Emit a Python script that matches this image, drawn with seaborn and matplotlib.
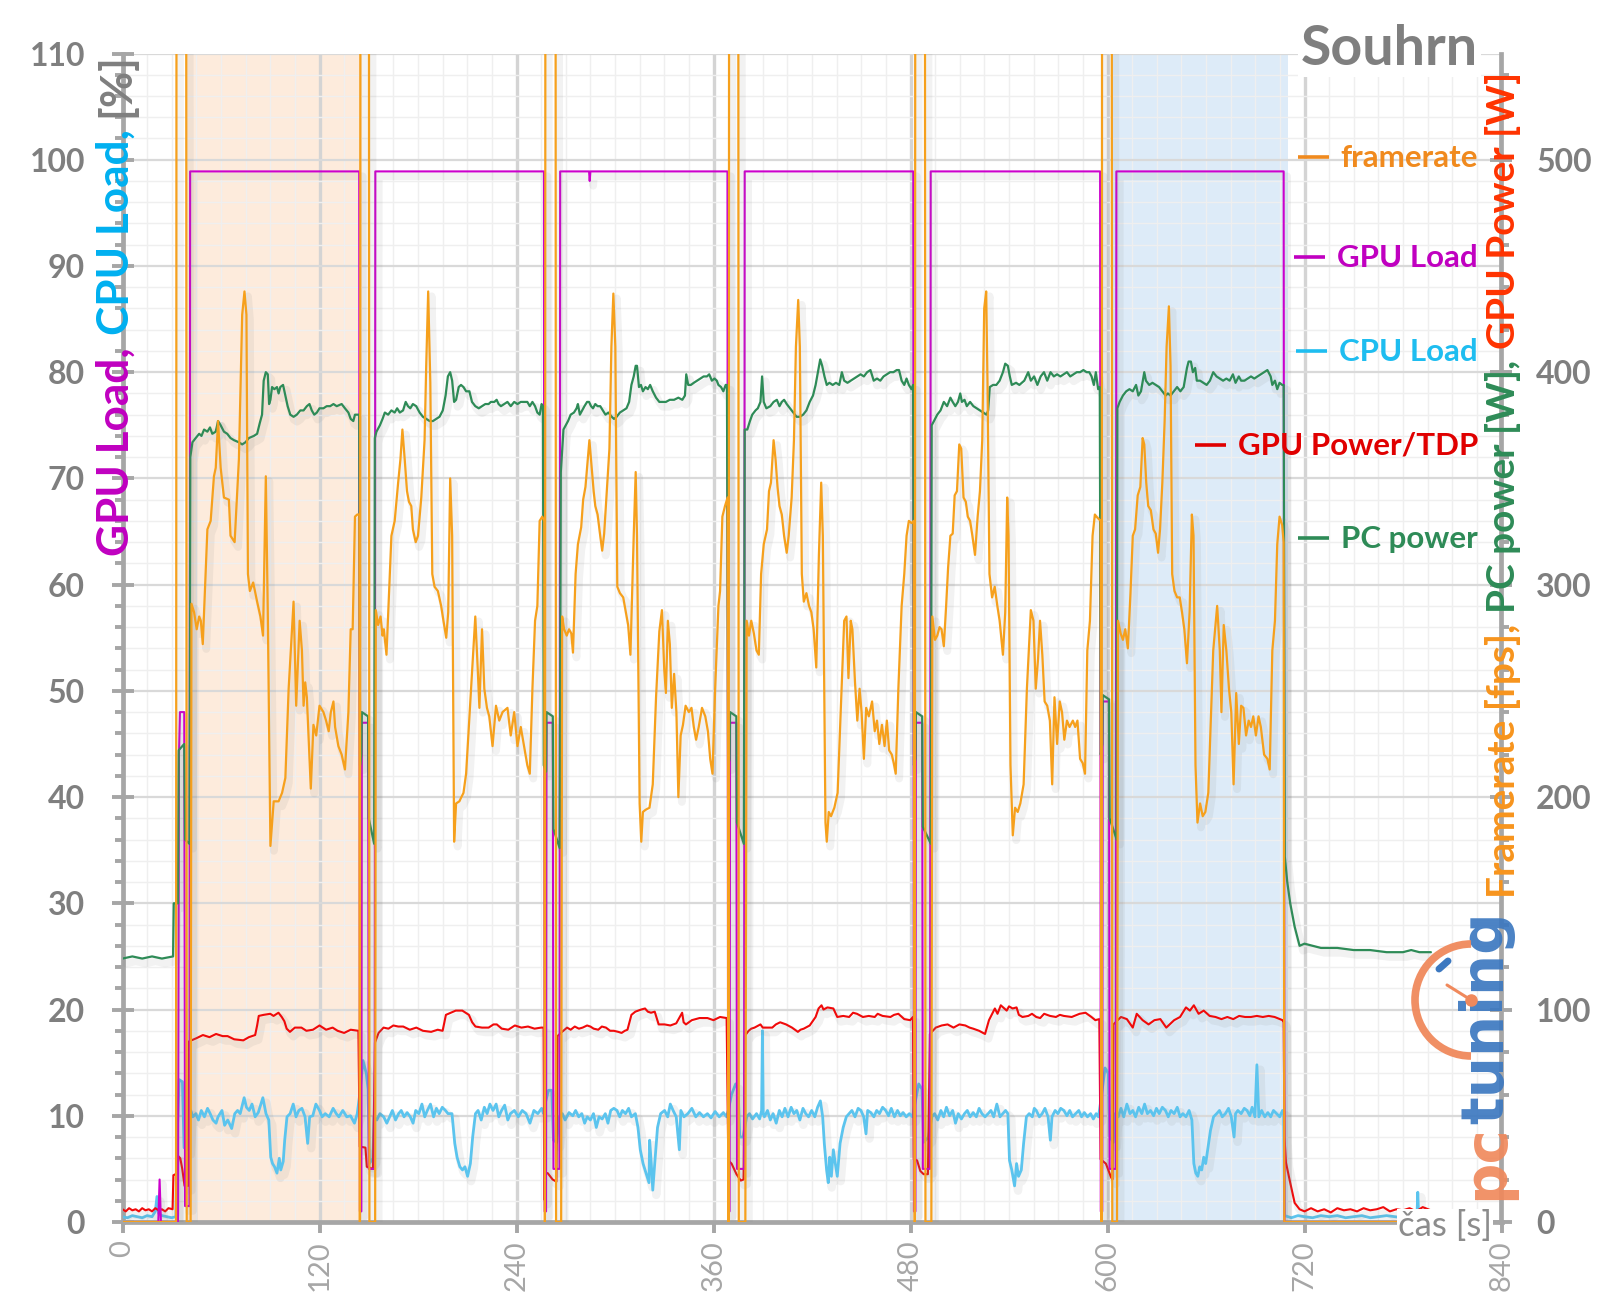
import matplotlib
matplotlib.use("Agg")
import numpy as np
import pandas as pd
import matplotlib.pyplot as plt
import seaborn as sns
from matplotlib.patches import Arc
from matplotlib.lines import Line2D
from matplotlib.ticker import MultipleLocator
import matplotlib.patheffects as pe

sns.set_theme(style="white")
plt.rcParams['font.family'] = ['Lato', 'DejaVu Sans']

# ---------------- data ----------------
X_TICKS = [0, 120, 240, 360, 480, 600, 720, 840]
LEFT_TICKS = [0, 10, 20, 30, 40, 50, 60, 70, 80, 90, 100, 110]
RIGHT_TICKS = [0, 100, 200, 300, 400, 500]
ORANGE_SPAN = (39.1, 146.0)
BLUE_SPAN = (602.9, 709.8)

# framerate [fps] (right axis); values above 550 are loading-screen spikes off the chart
FRAMERATE = [
    (0, 0), (32.6, 0), (32.9, 620), (38.8, 620), (39.1, 0), (41.5, 0),
    (42.0, 291), (43.6, 287), (45.2, 279), (46.7, 285), (47.7, 283), (48.9, 272), (51.7, 326), (53.7, 330),
    (55.7, 351), (56.8, 355), (58.2, 377), (59.8, 355), (61.8, 341), (64.8, 340), (65.8, 323), (68.3, 320),
    (70.9, 359), (72.9, 427), (74.3, 438), (75.5, 427), (76.4, 305), (77.6, 297), (79.6, 301), (82.0, 292),
    (84.0, 285), (85.6, 276), (87.3, 351), (88.5, 287), (90.1, 177), (92.1, 198), (95.1, 198), (97.2, 202),
    (99.2, 209), (101.2, 251), (104.2, 292), (105.8, 243), (107.9, 283), (109.3, 269), (110.3, 243),
    (111.3, 254), (112.3, 247), (114.7, 204), (116.3, 234), (118.0, 229), (120.0, 243), (122.4, 240),
    (124.0, 236), (125.6, 231), (126.9, 240), (128.5, 245), (129.5, 233), (131.5, 224), (133.5, 220),
    (135.5, 213), (137.6, 240), (139.0, 279), (140.2, 279), (141.6, 332), (143.0, 333), (144.3, 333),
    (144.6, 0), (144.9, 620), (150.1, 620), (150.4, 0), (153.9, 0),
    (154.3, 288), (155.7, 281), (157.2, 285), (158.4, 276), (159.2, 279), (160.8, 267), (163.8, 323),
    (165.8, 330), (167.9, 348), (169.3, 359), (170.5, 373), (171.9, 359), (173.3, 344), (174.5, 339),
    (175.9, 337), (176.9, 326), (178.6, 320), (180.0, 323), (182.0, 341), (184.0, 368), (185.0, 403),
    (186.2, 438), (187.5, 395), (188.7, 305), (190.1, 299), (192.1, 297), (194.1, 290), (195.5, 283),
    (197.2, 275), (198.4, 287), (199.6, 350), (200.8, 323), (202.0, 179), (203.2, 197), (205.2, 198),
    (207.7, 202), (209.3, 211), (212.3, 251), (214.9, 285), (216.4, 260), (217.4, 242), (219.0, 279),
    (220.4, 251), (222.0, 242), (223.4, 238), (225.4, 224), (227.5, 243), (229.5, 236), (231.5, 240),
    (234.5, 242), (236.5, 229), (238.6, 240), (240.6, 224), (242.6, 233), (244.6, 224), (246.6, 215),
    (248.1, 211), (249.7, 251), (251.3, 283), (252.7, 290), (254.1, 330), (255.7, 332), (256.9, 330),
    (257.3, 0), (257.6, 620), (263.8, 620), (264.1, 0), (267.2, 0),
    (267.8, 285), (269.0, 279), (270.6, 276), (272.0, 279), (273.4, 277), (274.4, 268), (276.0, 305),
    (277.4, 319), (279.4, 327), (280.6, 340), (282.0, 346), (283.4, 359), (284.4, 368), (285.4, 359),
    (287.0, 344), (288.0, 337), (289.4, 333), (291.0, 323), (292.2, 316), (293.4, 324), (295.0, 344),
    (296.6, 364), (297.8, 412), (299.0, 437), (300.2, 412), (301.4, 299), (303.0, 296), (305.0, 294),
    (306.6, 287), (308.0, 281), (309.4, 267), (311.4, 323), (312.6, 353), (313.4, 323), (315.0, 197),
    (316.0, 179), (317.0, 193), (318.6, 194), (321.0, 195), (323.0, 206), (325.0, 247), (327.0, 278),
    (328.6, 288), (330.0, 260), (331.0, 249), (332.2, 283), (333.4, 272), (334.6, 242), (336.0, 258),
    (337.4, 240), (338.6, 200), (340.0, 229), (341.4, 234), (343.0, 243), (345.0, 240), (346.6, 242),
    (348.0, 233), (349.4, 227), (351.0, 233), (353.0, 242), (355.0, 238), (356.6, 231), (358.0, 218),
    (359.4, 211), (361.0, 251), (363.0, 290), (364.0, 297), (365.4, 332), (367.0, 337), (368.6, 341),
    (369.2, 0), (369.5, 620), (375.1, 620), (375.4, 0), (379.4, 0),
    (380.2, 283), (381.6, 276), (383.0, 283), (384.6, 277), (386.2, 269), (387.6, 267), (389.0, 305),
    (390.6, 319), (392.6, 326), (393.8, 344), (395.0, 348), (396.6, 368), (397.8, 359), (399.0, 346),
    (400.2, 337), (401.6, 333), (403.0, 323), (404.6, 315), (405.8, 323), (407.6, 341), (409.0, 368),
    (410.2, 412), (411.6, 434), (412.6, 412), (413.8, 305), (415.0, 292), (416.6, 296), (418.2, 290),
    (419.6, 287), (421.0, 279), (422.6, 261), (424.2, 314), (425.6, 348), (426.6, 323), (428.2, 188),
    (429.0, 179), (430.2, 193), (431.6, 191), (433.6, 195), (435.6, 202), (437.6, 242), (439.6, 283),
    (441.0, 285), (442.2, 256), (443.6, 283), (444.6, 279), (446.2, 254), (447.6, 236), (449.0, 251),
    (450.2, 240), (451.6, 218), (453.0, 242), (454.6, 238), (456.6, 245), (458.2, 231), (459.6, 236),
    (461.0, 225), (462.6, 234), (464.2, 224), (465.6, 236), (467.0, 222), (468.6, 220), (469.8, 216),
    (471.0, 211), (472.6, 251), (474.6, 290), (476.2, 305), (477.6, 323), (479.0, 330), (480.6, 329),
    (482.0, 330),
    (482.6, 0), (482.9, 620), (488.8, 620), (489.1, 0), (492.7, 0),
    (493.3, 285), (494.9, 274), (496.3, 276), (497.7, 280), (498.9, 279), (500.3, 271), (501.7, 290),
    (502.9, 308), (504.3, 323), (505.7, 324), (506.9, 342), (508.3, 344), (509.7, 366), (510.9, 364),
    (512.3, 341), (513.7, 339), (514.9, 332), (516.3, 330), (517.7, 323), (519.3, 314), (520.9, 332),
    (522.3, 344), (523.7, 368), (524.9, 430), (526.1, 438), (526.9, 395), (528.1, 305), (529.7, 294),
    (531.3, 299), (532.9, 290), (534.3, 283), (536.3, 267), (537.7, 287), (538.9, 341), (539.7, 323),
    (540.9, 215), (542.3, 182), (543.7, 195), (545.3, 193), (546.9, 197), (548.9, 206), (550.9, 251),
    (553.3, 288), (554.9, 283), (556.3, 251), (557.7, 265), (558.9, 283), (560.3, 267), (561.7, 245),
    (563.3, 243), (564.9, 236), (566.3, 206), (567.7, 247), (569.3, 225), (570.9, 245), (572.3, 240),
    (573.7, 227), (575.3, 236), (576.9, 233), (578.9, 236), (580.3, 233), (581.7, 236), (583.3, 218),
    (584.9, 216), (586.3, 211), (587.7, 269), (589.3, 283), (590.9, 323), (592.3, 333), (593.3, 332),
    (595.8, 330),
    (596.4, 0), (596.7, 620), (602.6, 620), (602.9, 0), (605.8, 0),
    (606.4, 283), (608.0, 277), (609.4, 274), (610.8, 279), (612.4, 270), (614.0, 296), (615.4, 323),
    (616.8, 326), (618.4, 342), (620.0, 346), (621.4, 369), (622.4, 366), (623.6, 348), (624.8, 337),
    (626.4, 335), (628.0, 326), (629.4, 324), (630.8, 315), (632.0, 326), (633.4, 348), (634.8, 377),
    (636.0, 412), (637.4, 431), (638.4, 403), (639.4, 305), (640.8, 297), (642.4, 294), (644.0, 294),
    (645.4, 287), (646.8, 279), (648.4, 263), (650.0, 287), (651.4, 333), (652.4, 323), (653.6, 215),
    (654.8, 188), (656.4, 197), (658.0, 191), (659.6, 193), (661.4, 202), (662.8, 233), (664.4, 269),
    (666.8, 290), (668.4, 269), (669.4, 240), (670.8, 281), (672.4, 269), (674.0, 251), (675.4, 240),
    (676.8, 206), (678.4, 249), (680.0, 225), (681.4, 243), (682.8, 242), (684.4, 229), (686.0, 236),
    (687.4, 233), (688.8, 238), (690.4, 229), (692.0, 238), (693.4, 233), (695.4, 220), (697.4, 218),
    (698.8, 213), (700.4, 269), (702.0, 283), (703.4, 319), (704.8, 332), (706.4, 328), (707.3, 320),
    (707.7, 0), (797.0, 0),
]

# GPU load [%] (left axis)
GPU_LOAD = [
    (0, 0), (21.8, 0), (22.6, 4.0), (23.4, 0), (33.8, 0), (34.4, 44), (35.0, 48), (37.6, 48),
    (38.1, 1.5), (40.8, 1.5), (41.2, 98.9),
    (144.2, 98.9), (144.6, 1), (145.5, 1), (145.8, 47), (149.6, 47), (150.0, 5), (153.6, 5), (154.0, 98.9),
    (256.7, 98.9), (257.1, 1), (258.0, 1), (258.3, 47), (262.1, 47), (262.5, 5), (266.2, 5), (266.6, 98.9),
    (284.2, 98.9), (284.6, 98.0), (285.0, 98.9),
    (368.5, 98.9), (368.9, 1), (369.8, 1), (370.1, 47), (373.9, 47), (374.3, 5), (378.6, 5), (379.0, 98.9),
    (481.7, 98.9), (482.1, 1), (483.0, 1), (483.3, 47), (487.1, 47), (487.5, 5), (491.9, 5), (492.3, 98.9),
    (595.5, 98.9), (595.9, 1), (596.8, 1), (597.1, 49), (600.9, 49), (601.3, 5), (605.0, 5), (605.4, 98.9),
    (707.3, 98.9), (707.8, 0), (797, 0),
]

# CPU load [%] (left axis)
CPU_LOAD = [
    (0, 0.5), (3, 0.4), (6, 0.6), (9, 0.5), (12, 0.4), (15, 0.6), (18, 0.5), (20, 1.0), (21, 2.4), (22, 0.8),
    (24, 0.6), (27, 0.5), (30, 0.4), (32.5, 0.5), (33.5, 9.0), (34.5, 13.4), (36.5, 13.2), (37.5, 7.0),
    (39.5, 6.8), (40.8, 10.5),
    (41.6, 10.5), (42.8, 9.9), (44.7, 10.2), (46.3, 9.6), (48.0, 10.5), (49.9, 9.9), (51.8, 10.7), (53.4, 10.2),
    (55.1, 9.6), (57.0, 9.3), (58.2, 9.9), (60.6, 10.5), (62.2, 9.1), (64.1, 9.6), (66.5, 8.8), (68.4, 10.2),
    (70.1, 10.5), (71.7, 10.2), (74.1, 11.7), (75.5, 10.8), (77.2, 10.5), (78.9, 11.1), (80.8, 9.9), (82.7, 10.3),
    (84.3, 11.1), (85.5, 11.7), (87.4, 10.2), (89.1, 9.6), (90.3, 6.1), (91.4, 5.5), (92.6, 5.2), (94.1, 4.6),
    (95.5, 6.0), (96.4, 4.9), (97.9, 5.7), (98.8, 7.7), (100.2, 9.9), (102.1, 10.2), (104.0, 11.1), (105.7, 9.9),
    (107.4, 10.5), (109.3, 10.7), (111.2, 9.9), (112.8, 7.4), (114.0, 9.9), (115.9, 10.0), (117.8, 11.1),
    (120.0, 10.5), (121.6, 9.9), (123.5, 10.2), (125.9, 9.9), (128.3, 10.7), (130.2, 10.2), (131.8, 9.9),
    (134.2, 10.5), (136.6, 9.9), (138.9, 10.0), (141.3, 9.3), (143.0, 10.2),
    (144.5, 12.0), (146.5, 15.2), (148.5, 14.0), (149.6, 12.5), (150.4, 5.5), (152.5, 6.0),
    (153.2, 9.9), (154.9, 9.6), (156.8, 10.2), (159.1, 9.9), (161.0, 9.3), (162.7, 9.9), (164.4, 10.5),
    (166.3, 9.6), (168.2, 10.2), (169.8, 10.5), (171.5, 9.9), (173.4, 10.3), (175.3, 9.9), (177.0, 9.3),
    (178.6, 10.5), (180.5, 10.2), (182.4, 11.1), (184.1, 9.9), (185.7, 10.5), (187.6, 11.1), (189.5, 9.9),
    (191.2, 10.7), (192.9, 10.2), (194.8, 10.8), (196.7, 10.5), (198.3, 10.2), (200.7, 10.2), (202.4, 7.4),
    (203.8, 6.1), (205.5, 5.2), (207.1, 4.9), (208.6, 5.2), (210.2, 4.3), (211.9, 5.5), (213.3, 8.0),
    (215.0, 10.2), (216.6, 10.5), (218.5, 9.6), (220.4, 10.8), (222.1, 10.2), (223.8, 11.1), (225.7, 10.5),
    (227.6, 11.1), (229.2, 9.9), (230.9, 10.5), (232.8, 11.0), (234.7, 9.6), (236.3, 10.2), (238.7, 10.5),
    (241.1, 9.9), (243.5, 10.5), (245.8, 10.2), (248.2, 9.3), (250.6, 10.5), (253.0, 10.2), (255.3, 10.7),
    (256.5, 10.2),
    (257.2, 11.0), (259.5, 12.4), (261.5, 12.4), (262.5, 7.7), (264.5, 7.5),
    (266.0, 9.9), (267.9, 10.2), (269.6, 9.6), (272.0, 10.3), (274.3, 10.0), (276.0, 10.5), (277.9, 9.9),
    (279.8, 10.2), (281.5, 9.3), (283.1, 9.9), (285.0, 9.6), (286.9, 10.2), (288.6, 8.9), (290.3, 9.9),
    (292.2, 9.7), (294.1, 10.2), (295.7, 9.3), (297.4, 10.5), (299.3, 10.7), (301.2, 10.5), (302.9, 9.9),
    (304.5, 10.5), (306.4, 10.2), (308.3, 10.7), (310.0, 9.9), (312.4, 10.2), (314.0, 8.9), (315.4, 6.8),
    (317.1, 5.5), (318.3, 4.9), (319.5, 4.3), (320.7, 3.7), (321.1, 7.7), (322.1, 5.5), (323.0, 3.0),
    (324.2, 5.5), (325.9, 8.9), (327.8, 10.2), (330.2, 10.5), (332.1, 9.9), (333.7, 11.1), (335.4, 10.5),
    (337.3, 9.9), (339.2, 6.8), (340.1, 10.5), (342.0, 9.9), (344.4, 10.2), (346.8, 10.7), (349.2, 9.9),
    (351.5, 10.3), (353.9, 9.9), (356.3, 10.2), (358.5, 9.8), (361.0, 10.4), (363.5, 9.9), (366.0, 10.3),
    (368.0, 9.9),
    (369.0, 10.5), (371.0, 12.0), (373.5, 13.0), (375.0, 12.5), (376.0, 8.0), (378.0, 8.0),
    (380.2, 9.9), (381.9, 10.2), (383.8, 9.7), (386.2, 10.2), (388.1, 9.7), (389.3, 10.5), (389.8, 18.0),
    (390.3, 10.2), (391.0, 9.9), (392.9, 10.5), (394.6, 9.6), (396.3, 10.2), (398.2, 9.3), (400.1, 10.5),
    (401.8, 9.9), (403.5, 10.7), (405.4, 9.9), (407.3, 10.8), (409.0, 10.2), (410.7, 10.5), (412.6, 9.6),
    (414.5, 10.7), (416.2, 10.2), (417.9, 9.9), (419.8, 10.5), (421.7, 9.9), (423.4, 10.8), (425.1, 11.4),
    (426.5, 9.9), (427.5, 7.4), (428.9, 4.9), (429.9, 3.7), (430.8, 6.1), (431.8, 4.3), (433.0, 6.8),
    (434.2, 5.5), (435.4, 4.3), (437.1, 7.4), (439.0, 8.9), (440.9, 9.9), (442.6, 10.2), (444.3, 10.5),
    (446.2, 9.9), (448.1, 10.7), (449.8, 10.5), (451.5, 9.9), (452.9, 8.3), (453.9, 10.5), (455.8, 10.3),
    (457.7, 9.9), (459.4, 10.5), (461.1, 10.2), (463.0, 10.8), (464.9, 10.5), (466.6, 10.0), (468.3, 10.7),
    (470.2, 9.9), (472.1, 10.5), (473.8, 10.0), (475.5, 10.3), (477.4, 9.9), (479.3, 10.2), (481.2, 9.9),
    (482.5, 11.0), (485.0, 13.0), (487.0, 12.5), (488.0, 7.5), (491.0, 8.0),
    (493.0, 9.9), (494.7, 10.2), (496.6, 9.6), (498.5, 10.5), (500.2, 9.9), (501.9, 10.8), (503.8, 10.0),
    (505.7, 10.5), (507.4, 9.3), (509.1, 10.2), (511.0, 9.7), (512.9, 10.2), (514.6, 10.5), (516.3, 9.9),
    (518.2, 10.3), (520.1, 9.9), (521.8, 10.7), (523.5, 10.2), (525.4, 9.9), (527.3, 10.2), (529.0, 10.5),
    (530.7, 9.9), (532.6, 11.1), (534.5, 9.9), (536.2, 10.2), (537.9, 10.5), (539.3, 10.2), (540.3, 5.8),
    (541.7, 4.9), (543.4, 3.4), (544.6, 5.5), (545.8, 4.3), (547.5, 4.9), (548.9, 7.4), (550.6, 9.9),
    (552.3, 10.2), (554.2, 9.9), (555.4, 10.7), (556.6, 10.5), (558.5, 9.9), (560.2, 10.2), (561.9, 10.7),
    (563.8, 9.9), (565.2, 7.7), (566.2, 9.9), (568.1, 10.5), (569.8, 10.2), (571.5, 10.7), (573.4, 10.5),
    (575.3, 10.0), (577.0, 10.5), (578.7, 9.9), (580.6, 10.2), (582.5, 10.5), (584.2, 9.9), (585.9, 10.3),
    (587.8, 9.9), (589.7, 10.2), (591.4, 9.7), (593.1, 10.2), (594.5, 9.9),
    (596.0, 11.5), (598.5, 14.5), (600.5, 14.0), (601.5, 8.0), (603.5, 7.5),
    (604.6, 10.2), (606.5, 9.9), (608.2, 10.7), (609.9, 9.9), (611.8, 11.1), (613.7, 10.2), (615.4, 10.5),
    (617.1, 9.9), (619.0, 10.8), (620.9, 10.2), (622.6, 11.1), (624.3, 10.2), (626.2, 10.5), (628.1, 10.0),
    (629.8, 10.7), (631.5, 10.2), (633.4, 10.8), (635.3, 10.5), (637.0, 9.9), (638.7, 10.5), (640.6, 10.2),
    (642.5, 10.8), (644.2, 9.9), (645.9, 10.2), (647.8, 9.9), (649.7, 10.5), (651.4, 9.6), (652.6, 5.5),
    (653.8, 4.6), (655.0, 4.3), (656.2, 5.2), (657.4, 4.9), (658.6, 6.1), (659.8, 5.5), (661.0, 6.8),
    (662.7, 8.6), (664.6, 9.9), (666.5, 10.2), (668.2, 10.5), (669.9, 9.9), (671.8, 10.2), (673.7, 10.7),
    (675.4, 9.9), (677.1, 8.0), (678.0, 10.2), (679.4, 10.5), (681.4, 10.2), (683.3, 10.7), (685.0, 10.5),
    (686.7, 10.0), (688.1, 10.8), (689.8, 9.9), (691.0, 14.8), (692.2, 9.9), (693.9, 10.5), (695.8, 9.9),
    (697.7, 10.3), (699.4, 9.9), (701.1, 10.5), (703.0, 10.2), (704.9, 9.9), (706.6, 10.5), (707.3, 10.4),
    (707.9, 0.6), (712, 0.4), (716, 0.6), (720, 0.5), (725, 0.4), (730, 0.6), (735, 0.5), (740, 0.6),
    (745, 0.4), (750, 0.5), (755, 0.6), (760, 0.4), (765, 0.5), (770, 0.6), (775, 0.5), (780, 0.4),
    (785, 0.5), (788.5, 0.6), (789.0, 2.8), (789.5, 0.6), (793, 0.5), (797, 0.5),
]

# GPU power / TDP [%] (left axis)
GPU_POWER = [
    (0, 1.2), (2, 1.0), (4, 1.3), (6, 1.1), (8, 1.2), (10, 1.0), (12, 1.3), (14, 1.1), (16, 1.2), (18, 1.0),
    (20, 1.3), (22, 1.1), (24, 1.2), (26, 1.0), (28, 1.3), (30.5, 1.2),
    (31.0, 4.4), (33.6, 4.6), (34.0, 6.2), (35.2, 6.0), (36.4, 5.0), (37.8, 3.4), (40.0, 3.4),
    (40.5, 17.0), (45, 17.3), (49, 17.6), (53, 17.4), (57, 17.7), (61, 17.5), (64, 17.5), (68, 17.2),
    (73.6, 17.1), (77, 17.4), (80.8, 17.6), (82, 18.5), (83, 19.4), (86, 19.5), (90, 19.6), (92, 19.4),
    (95, 19.7), (97, 19.3), (98.6, 18.9), (100, 18.2), (102, 17.9), (105, 18.3), (109, 18.3), (112, 18.0),
    (116, 18.1), (120, 18.5), (124, 18.1), (128, 18.3), (131, 18.0), (135, 17.8), (139, 18.1), (143.7, 18.0),
    (144.5, 7.1), (148.0, 7.0), (148.8, 5.2), (152.6, 5.0),
    (153.8, 16.9), (156, 17.8), (159, 18.3), (162, 18.2), (165, 18.5), (168, 18.4), (171, 18.4), (175, 18.1),
    (179, 18.3), (183, 18.0), (188, 17.9), (192, 18.1), (195, 18.0), (197, 19.5), (200, 19.7), (203, 19.9),
    (207, 19.9), (211, 19.5), (213, 18.8), (215, 18.4), (219, 18.3), (223, 18.3), (226, 18.6), (228, 18.6),
    (231, 18.2), (235, 18.1), (239, 18.5), (243, 18.3), (247, 18.4), (251, 18.2), (255, 18.3), (256.5, 18.3),
    (256.9, 2.1), (257.5, 4.6), (259.0, 4.6), (262.0, 4.0), (264.3, 3.8),
    (265.0, 17.5), (267, 17.8), (270.8, 18.3), (273, 18.1), (275.5, 18.4), (278, 18.2), (280.3, 18.3),
    (283, 18.5), (285, 18.4), (287, 18.2), (289.8, 18.1), (292, 18.4), (294.5, 18.3), (297, 18.0),
    (299.3, 18.0), (302, 17.9), (304, 17.8), (306, 18.0), (307.6, 18.1), (310, 19.5), (312.4, 19.8),
    (315.9, 20.0), (318.3, 20.1), (320, 19.8), (321.9, 19.7), (324.2, 19.8), (326.6, 18.6), (330.2, 18.6),
    (333.7, 18.5), (337.3, 18.7), (340.9, 19.7), (341.8, 18.8), (343.2, 18.6), (346.8, 19.0), (351.5, 19.2),
    (356.3, 19.2), (360, 19.0), (364, 19.3), (368, 19.2),
    (369.0, 5.8), (371.0, 5.5), (374.0, 4.5), (376.6, 3.9), (378.3, 4.0),
    (379.0, 17.5), (381.4, 18.0), (383, 18.2), (385.0, 18.3), (388.6, 18.6), (390, 18.3), (392.2, 18.3),
    (395.8, 18.3), (398, 18.6), (400.6, 18.8), (404.2, 18.6), (407.8, 18.3), (411.4, 17.9), (413, 18.1),
    (415.0, 18.2), (418.6, 18.5), (422.2, 19.3), (424, 20.1), (425.8, 20.4), (427, 20.0), (429.4, 20.2),
    (433.0, 20.1), (435.4, 19.3), (439.0, 19.4), (442.6, 19.3), (445, 19.7), (447.4, 19.6), (451.0, 19.3),
    (454.6, 19.4), (458.2, 19.3), (460, 19.6), (463.0, 19.4), (467.8, 19.3), (470, 19.5), (472.6, 19.6),
    (476.2, 19.1), (479.8, 19.0), (481.5, 19.3),
    (482.0, 5.9), (484.0, 5.8), (486.0, 4.8), (488.0, 4.5), (490.6, 4.5),
    (491.8, 17.7), (495.4, 18.3), (499.0, 18.5), (502.6, 18.6), (506.2, 18.3), (509.8, 18.6), (513.4, 18.5),
    (516, 18.3), (518.2, 18.2), (521.8, 18.0), (525.4, 17.7), (527.8, 19.0), (531.4, 20.1), (533, 19.6),
    (535.0, 20.4), (538.6, 19.9), (540, 20.3), (542.2, 20.1), (544.6, 20.2), (546, 19.5), (548.2, 19.3),
    (551.8, 19.4), (554, 19.6), (556.6, 19.3), (559, 19.2), (561.4, 19.6), (565.0, 19.4), (568.6, 19.3),
    (571, 19.5), (573.4, 19.4), (578.2, 19.3), (583.0, 19.6), (586.6, 19.7), (590.2, 19.3), (592.6, 19.0),
    (595.0, 19.1),
    (595.8, 5.9), (599.0, 5.5), (602.2, 4.2), (603.0, 4.0),
    (603.6, 18.6), (608.2, 19.3), (611.8, 19.1), (615.4, 18.3), (617.8, 19.6), (621.4, 19.0), (625.0, 18.6),
    (628.6, 19.0), (632.2, 19.1), (635.8, 18.3), (640.6, 19.0), (644.2, 19.3), (647.8, 20.2), (650.2, 19.9),
    (652.6, 20.4), (655.5, 19.6), (658.6, 19.9), (662.2, 19.4), (665.8, 19.3), (669.4, 19.1), (673.0, 19.3),
    (676.6, 19.1), (680.2, 19.4), (683.8, 19.3), (687.4, 19.3), (691.0, 19.4), (694.6, 19.3), (698.2, 19.4),
    (701.8, 19.3), (704.9, 19.1), (706.6, 19.0), (707.3, 18.8),
    (707.8, 8.0), (708.7, 5.6), (711.3, 3.7), (714, 1.8), (717, 1.2), (720, 1.0), (724, 1.3), (728, 1.0),
    (732, 1.2), (736, 0.9), (740, 1.3), (744, 1.1), (748, 1.2), (752, 1.0), (756, 1.3), (760, 1.1),
    (764, 1.2), (768, 1.4), (772, 1.0), (776, 1.2), (780, 1.1), (784, 1.3), (788, 1.0), (792, 1.4), (797, 1.1),
]

# PC power [W] (right axis)
PC_POWER = [
    (0, 124), (6, 125), (12, 124), (18, 125), (24, 124), (30.8, 125), (31.2, 150), (33.8, 150), (34.2, 222),
    (37.6, 225), (38.1, 180), (40.8, 178),
    (41.3, 360), (42.6, 367), (44.6, 369), (46.7, 371), (48.1, 370), (49.7, 373), (51.7, 372), (53.3, 374),
    (54.7, 371), (56.8, 372), (58.2, 377), (59.8, 375), (61.8, 372), (63.8, 371), (65.8, 369), (67.9, 368),
    (70.9, 367), (72.9, 366), (74.9, 367), (77.0, 369), (80.0, 370), (82.0, 371), (83.6, 376), (85.0, 380),
    (86.0, 396), (87.3, 400), (88.5, 399), (89.3, 385), (90.1, 387), (91.1, 393), (92.5, 392), (94.1, 393),
    (95.1, 390), (96.1, 393), (97.8, 394), (99.2, 389), (100.6, 384), (102.2, 380), (104.2, 379), (106.2, 380),
    (108.3, 382), (110.3, 382), (112.3, 384), (113.9, 385), (115.3, 382), (116.8, 380), (118.4, 381),
    (120.0, 383), (122.4, 383), (124.4, 384), (126.5, 384), (128.5, 385), (130.5, 384), (133.5, 385),
    (135.5, 383), (137.6, 381), (139.0, 378), (140.6, 377), (141.6, 380), (143.2, 380), (144.2, 380),
    (144.7, 215), (145.5, 220), (145.8, 240), (149.6, 238), (150.0, 190), (153.3, 178),
    (153.7, 369), (154.7, 372), (156.8, 375), (158.4, 378), (159.8, 381), (161.8, 380), (163.8, 382),
    (165.8, 381), (167.3, 383), (168.9, 381), (170.9, 382), (172.5, 386), (173.9, 384), (175.3, 383),
    (176.9, 385), (178.9, 384), (181.0, 381), (183.0, 379), (185.0, 378), (187.1, 377), (189.1, 377),
    (191.1, 378), (193.1, 379), (195.1, 382), (196.8, 389), (198.2, 398), (199.6, 400), (200.8, 396),
    (202.0, 386), (203.2, 387), (204.8, 393), (206.2, 394), (207.7, 393), (209.3, 391), (211.3, 391),
    (212.9, 386), (214.9, 384), (217.0, 383), (219.0, 384), (221.0, 385), (223.0, 385), (224.4, 386),
    (226.5, 386), (227.9, 387), (229.1, 385), (230.5, 384), (232.5, 385), (234.5, 386), (236.5, 384),
    (238.6, 386), (240.6, 385), (242.6, 386), (244.6, 386), (246.6, 386), (248.1, 384), (249.7, 386),
    (251.3, 384), (252.7, 381), (254.1, 380), (255.3, 385), (256.1, 384),
    (256.6, 215), (258.0, 212), (258.3, 240), (262.1, 238), (262.5, 185), (266.3, 176),
    (267.0, 353), (268.6, 373), (270.0, 375), (271.4, 377), (273.0, 380), (275.0, 381), (276.6, 383),
    (277.4, 385), (278.6, 380), (280.0, 382), (281.4, 384), (283.0, 386), (284.2, 386), (285.4, 384),
    (286.6, 383), (288.0, 385), (289.4, 384), (291.0, 384), (292.6, 382), (294.2, 380), (296.0, 381),
    (298.0, 379), (299.4, 378), (301.0, 379), (303.0, 381), (305.0, 382), (307.0, 383), (308.6, 386),
    (310.0, 394), (311.4, 398), (312.6, 403), (313.4, 403), (314.6, 393), (315.8, 394), (317.0, 391),
    (318.6, 393), (320.0, 392), (321.4, 394), (323.0, 391), (325.0, 388), (327.0, 386), (329.0, 386),
    (331.0, 386), (333.4, 387), (336.0, 387), (338.6, 388), (341.0, 387), (342.6, 389), (343.4, 399),
    (344.6, 394), (346.2, 394), (348.0, 395), (350.0, 396), (352.0, 397), (354.0, 398), (356.0, 398),
    (357.4, 399), (359.0, 396), (360.6, 397), (362.0, 396), (363.0, 394), (364.6, 393), (366.0, 391),
    (367.4, 394), (368.2, 394),
    (368.9, 215), (369.8, 218), (370.1, 240), (373.9, 238), (374.3, 188), (378.5, 178),
    (379.0, 373), (380.6, 373), (382.2, 377), (383.6, 380), (385.6, 382), (387.0, 383), (388.6, 386),
    (389.6, 398), (390.6, 386), (392.2, 383), (394.6, 384), (396.6, 386), (398.6, 387), (400.2, 384),
    (401.6, 386), (403.0, 387), (404.6, 385), (406.6, 383), (408.6, 381), (410.6, 379), (412.6, 379),
    (414.6, 380), (416.6, 382), (418.6, 386), (420.6, 389), (422.2, 394), (423.6, 400), (425.0, 406),
    (426.2, 403), (427.6, 398), (429.0, 394), (430.6, 395), (432.6, 394), (434.6, 395), (436.6, 394),
    (438.2, 400), (439.6, 396), (441.6, 395), (443.6, 396), (445.6, 397), (447.6, 398), (449.6, 399),
    (451.6, 398), (453.6, 400), (455.6, 401), (457.6, 396), (459.6, 397), (461.6, 396), (463.6, 398),
    (465.6, 399), (467.6, 400), (469.6, 400), (471.6, 401), (473.0, 401), (474.6, 396), (476.2, 394),
    (477.6, 397), (479.0, 394), (480.6, 392), (481.6, 394),
    (482.1, 215), (483.0, 218), (483.3, 240), (487.1, 238), (487.5, 186), (492.4, 178),
    (492.9, 375), (494.3, 377), (496.3, 380), (498.3, 382), (500.3, 386), (502.3, 384), (504.3, 388),
    (505.7, 386), (507.3, 384), (508.9, 386), (510.3, 390), (511.3, 386), (512.9, 387), (514.3, 384),
    (516.3, 386), (518.3, 384), (520.3, 383), (522.3, 382), (524.3, 381), (526.3, 380), (527.3, 382),
    (528.3, 393), (530.3, 394), (532.3, 394), (534.3, 396), (536.3, 400), (537.7, 404), (539.3, 403),
    (540.5, 398), (541.7, 394), (544.3, 395), (546.3, 394), (549.3, 396), (551.7, 400), (553.3, 396),
    (555.3, 398), (557.3, 394), (559.3, 398), (561.3, 400), (563.3, 396), (565.3, 400), (567.3, 398),
    (569.3, 399), (571.3, 398), (573.3, 399), (575.3, 400), (577.3, 398), (579.3, 399), (581.3, 400),
    (583.3, 400), (585.3, 401), (587.3, 400), (588.9, 400), (590.3, 398), (591.7, 394), (592.9, 400),
    (594.3, 392), (595.3, 393),
    (595.9, 220), (596.8, 225), (597.1, 248), (600.9, 246), (601.3, 190), (605.6, 180),
    (606.0, 383), (607.4, 386), (609.4, 389), (611.4, 391), (613.4, 392), (615.4, 391), (617.4, 394),
    (618.8, 389), (620.4, 391), (622.4, 400), (623.4, 396), (625.4, 394), (627.4, 395), (629.4, 394),
    (631.4, 393), (633.4, 391), (635.4, 389), (636.8, 390), (638.4, 389), (640.4, 391), (642.4, 393),
    (644.4, 391), (646.4, 393), (648.4, 402), (649.4, 405), (650.8, 405), (652.0, 400), (653.4, 402),
    (654.4, 396), (656.4, 396), (658.4, 395), (660.4, 394), (662.4, 396), (664.4, 400), (666.4, 398),
    (668.4, 397), (670.4, 396), (672.4, 397), (674.4, 396), (676.4, 399), (678.0, 395), (680.0, 398),
    (681.4, 396), (683.4, 396), (685.4, 397), (687.4, 398), (689.4, 397), (691.4, 398), (693.4, 399),
    (695.4, 400), (697.4, 401), (699.4, 398), (700.4, 394), (702.0, 396), (703.4, 392), (704.8, 395),
    (706.4, 394), (707.3, 394),
    (708.0, 172), (709.5, 160), (711.3, 150), (714, 139), (717, 130), (720, 131), (730, 129), (740, 129),
    (750, 128), (760, 128), (770, 127), (780, 127), (785, 128), (790, 127), (797, 127),
]

# ---------------- styling constants ----------------
C_FPS = '#F6A01C'
C_GPUL = '#CC00CC'
C_CPU = '#5BC4EE'
C_GPUP = '#F00A0A'
C_PC = '#2E8B57'
AX_GRAY = '#A6A6A6'
TXT_GRAY = '#7F7F7F'

W, H, DPI = 16.0, 13.13, 100
fig = plt.figure(figsize=(W, H), dpi=DPI, facecolor='white')
ax = fig.add_axes([122.5 / 1600, 1 - 1222 / 1313, 1379 / 1600, (1222 - 53.5) / 1313])
ax2 = ax.twinx()

ax.set_xlim(0, 840)
ax.set_ylim(0, 110)
ax2.set_ylim(0, 550)

# shaded test sections
ax.axvspan(*ORANGE_SPAN, color='#FDEBDC', zorder=0.1, lw=0)
ax.axvspan(*BLUE_SPAN, color='#DDEBF8', zorder=0.1, lw=0)

# grid
ax.set_axisbelow(True)
ax.xaxis.set_major_locator(MultipleLocator(120))
ax.xaxis.set_minor_locator(MultipleLocator(15))
ax.yaxis.set_major_locator(MultipleLocator(10))
ax.yaxis.set_minor_locator(MultipleLocator(2))
ax.grid(which='major', axis='y', color='#D9D9D9', lw=1.6)
ax.grid(which='minor', axis='y', color='#EFEFEF', lw=1.0)
ax.grid(which='major', axis='x', color='#D4D4D4', lw=2.4)
ax.grid(which='minor', axis='x', color='#EFEFEF', lw=1.0)


def draw(series, axis, color, lw, z):
    df = pd.DataFrame(series, columns=['t', 'v'])
    sns.lineplot(data=df, x='t', y='v', ax=axis, color=color, lw=lw,
                 estimator=None, sort=False, legend=False, zorder=z)
    line = axis.get_lines()[-1]
    line.set_path_effects([pe.SimpleLineShadow(offset=(2.5, -3.5), shadow_color='#808080', alpha=0.10,
                                               linewidth=lw + 4), pe.Normal()])


draw(CPU_LOAD, ax, C_CPU, 2.0, 3)
draw(GPU_POWER, ax, C_GPUP, 1.5, 4)
draw(GPU_LOAD, ax, C_GPUL, 1.5, 5)
draw(PC_POWER, ax2, C_PC, 1.6, 3)
draw(FRAMERATE, ax2, C_FPS, 1.6, 4)

for a in (ax, ax2):
    a.set_xlabel('')
    a.set_ylabel('')

ax.set_xlim(0, 840)
ax.set_ylim(0, 110)
ax2.set_ylim(0, 550)
ax.set_xticks(X_TICKS)
ax.set_yticks(LEFT_TICKS)
ax2.set_yticks(RIGHT_TICKS)
ax2.yaxis.set_minor_locator(MultipleLocator(20))

# spines
for s in ('top', 'right'):
    ax.spines[s].set_visible(False)
for s in ('top', 'left', 'bottom'):
    ax2.spines[s].set_visible(False)
for sp in (ax.spines['left'], ax.spines['bottom'], ax2.spines['right']):
    sp.set_color(AX_GRAY)
    sp.set_linewidth(3.4)
    sp.set_zorder(2.5)

ax.tick_params(axis='y', which='major', direction='inout', length=16, width=2.8, color=AX_GRAY,
               labelcolor=TXT_GRAY, labelsize=23, pad=19, left=True)
ax.tick_params(axis='y', which='minor', direction='out', length=6, width=2.8, color=AX_GRAY, left=True)
ax.tick_params(axis='x', which='major', direction='out', length=8, width=2.8, color=AX_GRAY,
               labelcolor=AX_GRAY, labelsize=21, pad=5, bottom=True, labelrotation=90)
ax.tick_params(axis='x', which='minor', bottom=False)
ax2.tick_params(axis='y', which='major', direction='inout', length=16, width=2.8, color=AX_GRAY,
                labelcolor=TXT_GRAY, labelsize=23, pad=17, right=True)
ax2.tick_params(axis='y', which='minor', direction='out', length=6, width=2.8, color=AX_GRAY, right=True)
for lab in ax.get_yticklabels() + ax2.get_yticklabels():
    lab.set_fontweight('bold')

# ---------------- texts ----------------
fig.canvas.draw()
renderer = fig.canvas.get_renderer()
FH = fig.bbox.height
FW = fig.bbox.width


def stacked_vertical(pieces, x, y_bottom, y_top, fs, weight='bold', gap_em=0.28, alpha=1.0, family=None):
    fam = family if family is not None else plt.rcParams['font.family']

    def measure(size):
        hs = []
        for s, c in pieces:
            t = fig.text(0, 0, s, rotation=90, fontsize=size, fontweight=weight, family=fam)
            hs.append(t.get_window_extent(renderer).height / FH)
            t.remove()
        gap = gap_em * size / 72 * DPI / FH
        return hs, gap
    hs, gap = measure(fs)
    total = sum(hs) + gap * (len(hs) - 1)
    fs2 = fs * (y_top - y_bottom) / total
    hs, gap = measure(fs2)
    y = y_bottom
    for (s, c), h in zip(pieces, hs):
        fig.text(x, y, s, rotation=90, fontsize=fs2, fontweight=weight, color=c, family=fam,
                 ha='center', va='bottom', alpha=alpha, zorder=6)
        y += h + gap


stacked_vertical([('GPU Load,', '#C000C0'), ('CPU Load,', '#00B0F0'), ('[%]', TXT_GRAY)],
                 116 / 1600, 1 - 556 / 1313, 1 - 53 / 1313, 30)
stacked_vertical([('Framerate [fps],', '#F7941D'), ('PC power [W],', '#2E8B57'), ('GPU Power [W]', '#FF3300')],
                 1503 / 1600, 1 - 898 / 1313, 1 - 71 / 1313, 28)

# legend (manual, right-aligned entries with a short line before each)
legend_items = [('framerate', '#F08A1E', 158), ('GPU Load', '#C000C0', 258), ('CPU Load', '#1EBDF0', 352),
                ('GPU Power/TDP', '#E00000', 446), ('PC power', '#2E8B57', 539)]
for label, col, ypx in legend_items:
    t = fig.text(1478 / 1600, 1 - ypx / 1313, label, ha='right', va='center', fontsize=22.5,
                 fontweight='bold', color=col, zorder=6)
    bb = t.get_window_extent(renderer)
    x_end = bb.x0 - 12
    x_start = x_end - 31
    yl = (1313 - ypx) + 1
    fig.add_artist(Line2D([x_start / FW, x_end / FW], [yl / FH, yl / FH], transform=fig.transFigure,
                          color=col, lw=2.6, solid_capstyle='butt', zorder=6))

# title
fig.text(1478 / 1600, 1 - 65 / 1313, 'Souhrn', ha='right', va='baseline', fontsize=40, fontweight='bold',
         color=TXT_GRAY, zorder=6, bbox=dict(fc='white', ec='none', pad=2))

# x axis label
fig.text(1492 / 1600, 1 - 1226 / 1313, 'čas [s]', ha='right', va='center', fontsize=25, color='#8C8C8C',
         zorder=6, bbox=dict(fc='white', ec='none', pad=1))

# pctuning logo
stacked_vertical([('pc', '#F0895C'), ('tuning', '#3C78C0')], 1487 / 1600, 1 - 1200 / 1313, 1 - 912 / 1313,
                 40, gap_em=0.0, alpha=0.92, family=['DejaVu Sans'])
cx, cy, r = 1471, 1000, 56
fig.add_artist(Arc((cx / 1600, 1 - cy / 1313), 2 * r / 1600, 2 * r / 1313, theta1=90, theta2=270,
                   transform=fig.transFigure, color='#F0895C', lw=5.5, zorder=7, alpha=0.95))
fig.add_artist(Line2D([1447 / 1600, cx / 1600], [1 - 985 / 1313, 1 - cy / 1313], transform=fig.transFigure,
                      color='#F0895C', lw=2.2, zorder=7))
fig.add_artist(Line2D([cx / 1600], [1 - cy / 1313], transform=fig.transFigure, marker='o', ms=8,
                      color='#F0895C', zorder=7))
fig.add_artist(Line2D([1439 / 1600, 1448 / 1600], [1 - 969 / 1313, 1 - 961 / 1313], transform=fig.transFigure,
                      color='#3C78C0', lw=5, zorder=7))

fig.savefig('out.png', dpi=DPI, facecolor='white')
